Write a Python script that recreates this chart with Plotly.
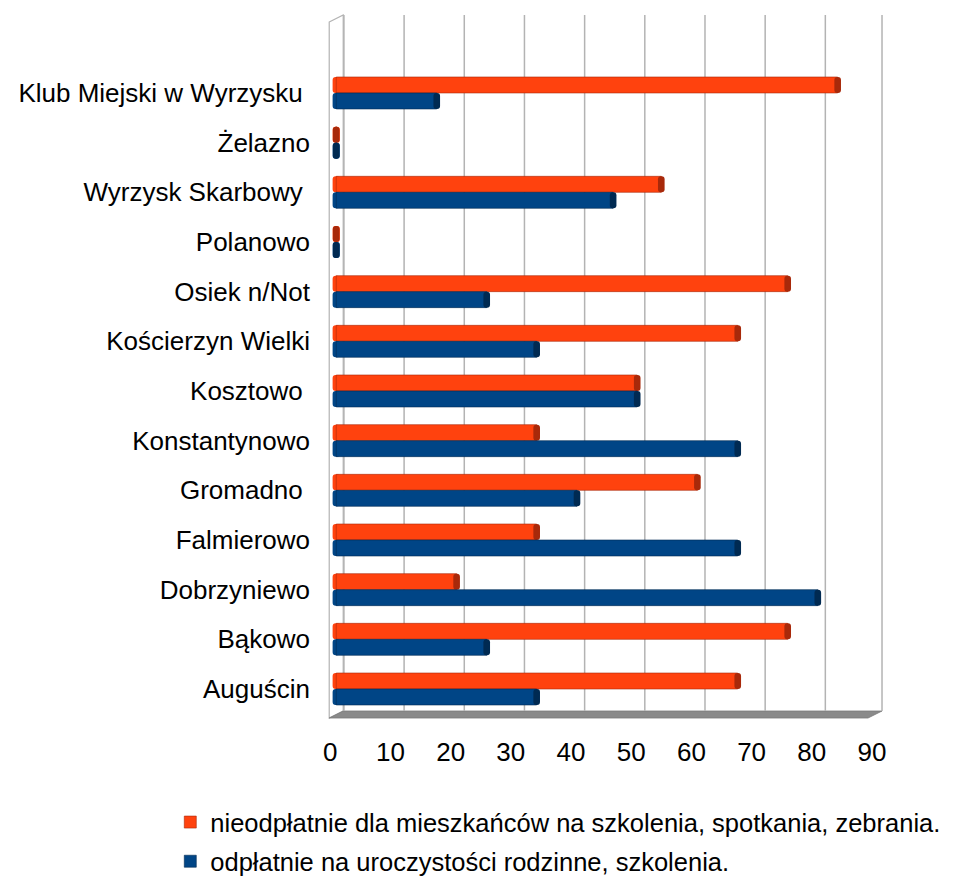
"""Horizontal grouped bar chart: usage of village halls (3D-look bars)."""

import plotly.graph_objects as go

# categories top -> bottom (trailing nbsp kept as in the source labels)
categories = [
    "Klub Miejski w Wyrzysku\u00a0",
    "Żelazno",
    "Wyrzysk Skarbowy\u00a0",
    "Polanowo",
    "Osiek n/Not",
    "Kościerzyn Wielki",
    "Kosztowo\u00a0",
    "Konstantynowo",
    "Gromadno\u00a0",
    "Falmierowo",
    "Dobrzyniewo",
    "Bąkowo",
    "Auguścin",
]
free_use = [83.3, 0, 54, 0, 75, 66.7, 50, 33.3, 60, 33.3, 20, 75, 66.7]
paid_use = [16.7, 0, 46, 0, 25, 33.3, 50, 66.7, 40, 66.7, 80, 25, 33.3]
free_name = "nieodpłatnie dla mieszkańców na szkolenia, spotkania, zebrania."
paid_name = "odpłatnie na uroczystości rodzinne, szkolenia."
x_ticks = [0, 10, 20, 30, 40, 50, 60, 70, 80, 90]

ORANGE, ORANGE_DARK = "#ff420e", "#a8290a"
BLUE, BLUE_DARK = "#004586", "#002a52"
GRID = "#b3b3b3"
FONT = "Liberation Sans, Arial, sans-serif"

OFF = 8                    # page body margin
W, H = 956 - OFF, 879 - OFF
SC = 6.022                 # px per unit on the value axis
X0 = -1.2                  # a little room left of zero for the rounded bar ends
L = 336 - OFF + X0 * SC
R = 336 - OFF + 90 * SC
T, B = 15 - OFF, 711 - OFF


def px(x, y):
    """screen pixel -> paper coordinates (for the 3D frame decoration)."""
    return ((x - OFF) - L) / (R - L), (B - (y - OFF)) / (B - T)


def poly(points):
    pts = [px(x, y) for x, y in points]
    return "M " + " L ".join(f"{a:.5f},{b:.5f}" for a, b in pts) + " Z"


fig = go.Figure()

for name, vals, col, dark, grp in [
    (free_name, free_use, ORANGE, ORANGE_DARK, "o"),
    (paid_name, paid_use, BLUE, BLUE_DARK, "b"),
]:
    n = len(vals)
    # rounded left end of the cylinder
    fig.add_trace(go.Bar(
        x=[-1.2] * n, base=[0.6] * n, y=categories, orientation="h",
        offsetgroup=grp, legendgroup=grp, showlegend=False,
        marker_color=col, marker_line_width=0, marker_cornerradius=6,
        hoverinfo="skip",
    ))
    fig.add_trace(go.Bar(
        x=vals, y=categories, orientation="h", name=name,
        offsetgroup=grp, legendgroup=grp, marker_color=col,
        marker_line=dict(color=dark, width=0.6),
    ))
    # darker end cap of the cylinder
    fig.add_trace(go.Bar(
        x=[1.1] * n, base=[v - 0.55 for v in vals], y=categories,
        orientation="h", offsetgroup=grp, legendgroup=grp, showlegend=False,
        marker_color=dark, marker_line_width=0, marker_cornerradius=3,
        hoverinfo="skip",
    ))

shapes = [
    # left wall
    dict(type="path", path=poly([(329, 22), (343, 15), (343, 711), (329, 718)]),
         xref="paper", yref="paper", line=dict(color=GRID, width=1.2),
         fillcolor="white", layer="below"),
    # floor
    dict(type="path", path=poly([(329, 718), (343, 711), (882, 711), (868, 718)]),
         xref="paper", yref="paper", line=dict(color="#7a7a7a", width=0.8),
         fillcolor="#8a8a8a", layer="below"),
]
# back-wall grid lines (0..80) and right back edge, drawn behind the bars
for t in x_ticks[:-1]:
    gx = px(343.7 + 60.2 * t / 10, 0)[0]
    shapes.append(dict(type="line", x0=gx, x1=gx, y0=0, y1=1, xref="paper", yref="paper",
                       line=dict(color=GRID, width=1.5), layer="below"))
shapes.append(dict(type="line", x0=px(882, 0)[0], x1=px(882, 0)[0], y0=0, y1=1,
                   xref="paper", yref="paper", line=dict(color=GRID, width=1.5), layer="below"))

fig.update_layout(
    width=W, height=H,
    margin=dict(l=L, r=W - R, t=T, b=H - B, autoexpand=False),
    paper_bgcolor="white", plot_bgcolor="rgba(0,0,0,0)",
    font=dict(family=FONT, size=26, color="#000000"),
    barmode="group", bargap=0.356, bargroupgap=0,
    shapes=shapes,
    xaxis=dict(
        range=[X0, 90], tickvals=x_ticks, showgrid=False, zeroline=False,
        ticks="", ticklabelstandoff=23, ticklabelshift=-6,
        showline=False, fixedrange=True,
    ),
    yaxis=dict(
        type="category", categoryorder="array", categoryarray=categories,
        range=[12.443, -1.57], showgrid=False, zeroline=False,
        ticks="", ticklabelstandoff=18, showline=False,
    ),
    legend=dict(
        xref="paper", yref="paper", x=px(170, 0)[0], y=px(0, 799)[1],
        xanchor="left", yanchor="top", traceorder="grouped", tracegroupgap=3,
        font=dict(size=25.5), bgcolor="rgba(0,0,0,0)",
    ),
)

fig.write_html("out.html")
